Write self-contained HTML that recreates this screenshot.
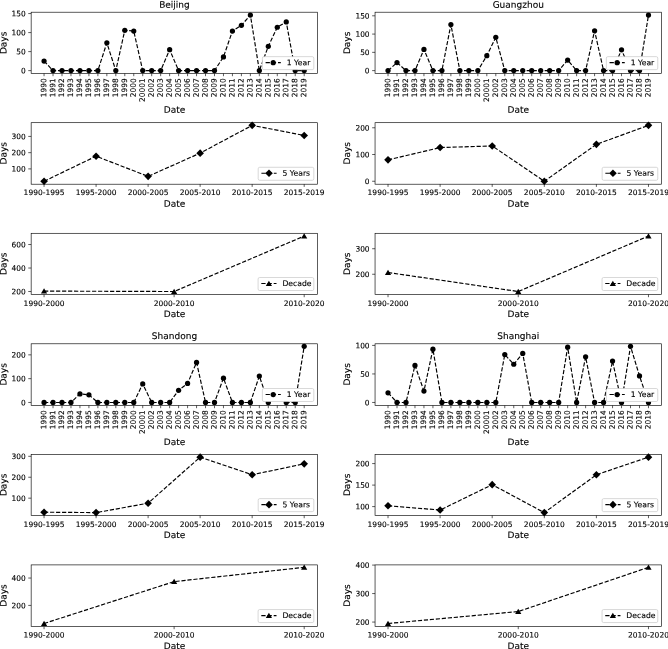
<!DOCTYPE html>
<html lang="en">
<head>
<meta charset="utf-8">
<title>Days per period: Beijing, Guangzhou, Shandong, Shanghai</title>
<style>
html,body{margin:0;padding:0;background:#fff;}
body{width:668px;height:649px;overflow:hidden;}
svg{display:block;will-change:transform;filter:grayscale(1) blur(0.35px);}
svg text{font-family:"DejaVu Sans","Liberation Sans",sans-serif;fill:#000;stroke:#000;stroke-width:0.12px;text-rendering:geometricPrecision;}
</style>
</head>
<body>
<svg width="668" height="649" viewBox="0 0 668 649">
<rect width="668" height="649" fill="#fff"/>
<g>
<polyline points="44.06,61.11 53.03,70.62 62,70.62 70.97,70.62 79.94,70.62 88.91,70.62 97.88,70.62 106.85,42.85 115.82,70.62 124.79,30.3 133.76,31.06 142.73,70.62 151.7,70.62 160.67,70.62 169.64,49.7 178.61,70.62 187.58,70.62 196.55,70.62 205.52,70.62 214.49,70.62 223.46,56.93 232.43,31.06 241.4,25.35 250.37,15.08 259.34,70.62 268.31,46.27 277.28,27.25 286.25,21.93 295.22,70.62 304.19,70.62" fill="none" stroke="#000" stroke-width="1.16" stroke-dasharray="4.2 1.8"/>
<g fill="#000"><circle cx="44.06" cy="61.11" r="2.62"/><circle cx="53.03" cy="70.62" r="2.62"/><circle cx="62" cy="70.62" r="2.62"/><circle cx="70.97" cy="70.62" r="2.62"/><circle cx="79.94" cy="70.62" r="2.62"/><circle cx="88.91" cy="70.62" r="2.62"/><circle cx="97.88" cy="70.62" r="2.62"/><circle cx="106.85" cy="42.85" r="2.62"/><circle cx="115.82" cy="70.62" r="2.62"/><circle cx="124.79" cy="30.3" r="2.62"/><circle cx="133.76" cy="31.06" r="2.62"/><circle cx="142.73" cy="70.62" r="2.62"/><circle cx="151.7" cy="70.62" r="2.62"/><circle cx="160.67" cy="70.62" r="2.62"/><circle cx="169.64" cy="49.7" r="2.62"/><circle cx="178.61" cy="70.62" r="2.62"/><circle cx="187.58" cy="70.62" r="2.62"/><circle cx="196.55" cy="70.62" r="2.62"/><circle cx="205.52" cy="70.62" r="2.62"/><circle cx="214.49" cy="70.62" r="2.62"/><circle cx="223.46" cy="56.93" r="2.62"/><circle cx="232.43" cy="31.06" r="2.62"/><circle cx="241.4" cy="25.35" r="2.62"/><circle cx="250.37" cy="15.08" r="2.62"/><circle cx="259.34" cy="70.62" r="2.62"/><circle cx="268.31" cy="46.27" r="2.62"/><circle cx="277.28" cy="27.25" r="2.62"/><circle cx="286.25" cy="21.93" r="2.62"/><circle cx="295.22" cy="70.62" r="2.62"/><circle cx="304.19" cy="70.62" r="2.62"/></g>
<path d="M44.06 73.5v2.7M53.03 73.5v2.7M62 73.5v2.7M70.97 73.5v2.7M79.94 73.5v2.7M88.91 73.5v2.7M97.88 73.5v2.7M106.85 73.5v2.7M115.82 73.5v2.7M124.79 73.5v2.7M133.76 73.5v2.7M142.73 73.5v2.7M151.7 73.5v2.7M160.67 73.5v2.7M169.64 73.5v2.7M178.61 73.5v2.7M187.58 73.5v2.7M196.55 73.5v2.7M205.52 73.5v2.7M214.49 73.5v2.7M223.46 73.5v2.7M232.43 73.5v2.7M241.4 73.5v2.7M250.37 73.5v2.7M259.34 73.5v2.7M268.31 73.5v2.7M277.28 73.5v2.7M286.25 73.5v2.7M295.22 73.5v2.7M304.19 73.5v2.7M31.15 70.62h-2.9M31.15 51.6h-2.9M31.15 32.58h-2.9M31.15 13.56h-2.9" stroke="#000" stroke-width="0.64" fill="none"/>
<rect x="31.15" y="12.2" width="286.35" height="61.3" fill="none" stroke="#000" stroke-width="0.64"/>
<text transform="translate(25.65 73.34) rotate(0.06)" font-size="7.45" text-anchor="end">0</text>
<text transform="translate(25.65 54.32) rotate(0.06)" font-size="7.45" text-anchor="end">50</text>
<text transform="translate(25.65 35.3) rotate(0.06)" font-size="7.45" text-anchor="end">100</text>
<text transform="translate(25.65 16.27) rotate(0.06)" font-size="7.45" text-anchor="end">150</text>
<text transform="translate(46.18 78.35) rotate(-89.94)" font-size="7.45" text-anchor="end">1990</text>
<text transform="translate(55.15 78.35) rotate(-89.94)" font-size="7.45" text-anchor="end">1991</text>
<text transform="translate(64.12 78.35) rotate(-89.94)" font-size="7.45" text-anchor="end">1992</text>
<text transform="translate(73.09 78.35) rotate(-89.94)" font-size="7.45" text-anchor="end">1993</text>
<text transform="translate(82.06 78.35) rotate(-89.94)" font-size="7.45" text-anchor="end">1994</text>
<text transform="translate(91.03 78.35) rotate(-89.94)" font-size="7.45" text-anchor="end">1995</text>
<text transform="translate(100 78.35) rotate(-89.94)" font-size="7.45" text-anchor="end">1996</text>
<text transform="translate(108.97 78.35) rotate(-89.94)" font-size="7.45" text-anchor="end">1997</text>
<text transform="translate(117.94 78.35) rotate(-89.94)" font-size="7.45" text-anchor="end">1998</text>
<text transform="translate(126.91 78.35) rotate(-89.94)" font-size="7.45" text-anchor="end">1999</text>
<text transform="translate(135.88 78.35) rotate(-89.94)" font-size="7.45" text-anchor="end">2000</text>
<text transform="translate(144.85 78.35) rotate(-89.94)" font-size="7.45" text-anchor="end">20001</text>
<text transform="translate(153.82 78.35) rotate(-89.94)" font-size="7.45" text-anchor="end">2002</text>
<text transform="translate(162.79 78.35) rotate(-89.94)" font-size="7.45" text-anchor="end">2003</text>
<text transform="translate(171.76 78.35) rotate(-89.94)" font-size="7.45" text-anchor="end">2004</text>
<text transform="translate(180.73 78.35) rotate(-89.94)" font-size="7.45" text-anchor="end">2005</text>
<text transform="translate(189.7 78.35) rotate(-89.94)" font-size="7.45" text-anchor="end">2006</text>
<text transform="translate(198.67 78.35) rotate(-89.94)" font-size="7.45" text-anchor="end">2007</text>
<text transform="translate(207.64 78.35) rotate(-89.94)" font-size="7.45" text-anchor="end">2008</text>
<text transform="translate(216.61 78.35) rotate(-89.94)" font-size="7.45" text-anchor="end">2009</text>
<text transform="translate(225.58 78.35) rotate(-89.94)" font-size="7.45" text-anchor="end">2010</text>
<text transform="translate(234.55 78.35) rotate(-89.94)" font-size="7.45" text-anchor="end">2011</text>
<text transform="translate(243.52 78.35) rotate(-89.94)" font-size="7.45" text-anchor="end">2012</text>
<text transform="translate(252.49 78.35) rotate(-89.94)" font-size="7.45" text-anchor="end">2013</text>
<text transform="translate(261.46 78.35) rotate(-89.94)" font-size="7.45" text-anchor="end">2014</text>
<text transform="translate(270.43 78.35) rotate(-89.94)" font-size="7.45" text-anchor="end">2015</text>
<text transform="translate(279.4 78.35) rotate(-89.94)" font-size="7.45" text-anchor="end">2016</text>
<text transform="translate(288.37 78.35) rotate(-89.94)" font-size="7.45" text-anchor="end">2017</text>
<text transform="translate(297.34 78.35) rotate(-89.94)" font-size="7.45" text-anchor="end">2018</text>
<text transform="translate(306.31 78.35) rotate(-89.94)" font-size="7.45" text-anchor="end">2019</text>
<text transform="translate(174.47 112.8) rotate(0.06)" font-size="9.0" text-anchor="middle">Date</text>
<text transform="translate(6.45 42.85) rotate(-89.94)" font-size="9.0" text-anchor="middle">Days</text>
<text transform="translate(174.47 7.7) rotate(0.06)" font-size="9.0" text-anchor="middle">Beijing</text>
<rect x="262.4" y="56.65" width="51.4" height="13" rx="1.5" ry="1.5" fill="#fff" stroke="#ccc" stroke-width="0.76"/>
<path d="M265.6 62.65H280.8" stroke="#000" stroke-width="1.16" stroke-dasharray="4.3 1.9" fill="none"/>
<g fill="#000"><circle cx="273.2" cy="62.65" r="2.62"/></g>
<text transform="translate(286.7 65.15) rotate(0.06)" font-size="7.7">1 Year</text>
</g>
<g>
<polyline points="44.06,181.25 96.08,156.23 148.11,176.37 200.14,153.14 252.17,125.36 304.19,135.44" fill="none" stroke="#000" stroke-width="1.16" stroke-dasharray="4.2 1.8"/>
<g fill="#000"><path d="M44.06 177.45L47.86 181.25L44.06 185.05L40.26 181.25Z"/><path d="M96.08 152.43L99.88 156.23L96.08 160.03L92.28 156.23Z"/><path d="M148.11 172.57L151.91 176.37L148.11 180.17L144.31 176.37Z"/><path d="M200.14 149.34L203.94 153.14L200.14 156.94L196.34 153.14Z"/><path d="M252.17 121.56L255.97 125.36L252.17 129.16L248.37 125.36Z"/><path d="M304.19 131.64L307.99 135.44L304.19 139.24L300.39 135.44Z"/></g>
<path d="M44.06 184.2v2.7M96.08 184.2v2.7M148.11 184.2v2.7M200.14 184.2v2.7M252.17 184.2v2.7M304.19 184.2v2.7M31.15 168.9h-2.9M31.15 152.66h-2.9M31.15 136.41h-2.9" stroke="#000" stroke-width="0.64" fill="none"/>
<rect x="31.15" y="122.7" width="286.35" height="61.5" fill="none" stroke="#000" stroke-width="0.64"/>
<text transform="translate(25.65 171.62) rotate(0.06)" font-size="7.45" text-anchor="end">100</text>
<text transform="translate(25.65 155.37) rotate(0.06)" font-size="7.45" text-anchor="end">200</text>
<text transform="translate(25.65 139.13) rotate(0.06)" font-size="7.45" text-anchor="end">300</text>
<text transform="translate(44.06 195) rotate(0.06)" font-size="7.5" text-anchor="middle">1990-1995</text>
<text transform="translate(96.08 195) rotate(0.06)" font-size="7.5" text-anchor="middle">1995-2000</text>
<text transform="translate(148.11 195) rotate(0.06)" font-size="7.5" text-anchor="middle">2000-2005</text>
<text transform="translate(200.14 195) rotate(0.06)" font-size="7.5" text-anchor="middle">2005-2010</text>
<text transform="translate(252.17 195) rotate(0.06)" font-size="7.5" text-anchor="middle">2010-2015</text>
<text transform="translate(304.19 195) rotate(0.06)" font-size="7.5" text-anchor="middle">2015-2019</text>
<text transform="translate(174.47 206.7) rotate(0.06)" font-size="9.0" text-anchor="middle">Date</text>
<text transform="translate(6.45 153.31) rotate(-89.94)" font-size="9.0" text-anchor="middle">Days</text>
<rect x="258.2" y="167.29" width="55.6" height="13" rx="1.5" ry="1.5" fill="#fff" stroke="#ccc" stroke-width="0.76"/>
<path d="M261.4 173.29H276.6" stroke="#000" stroke-width="1.16" stroke-dasharray="4.3 1.9" fill="none"/>
<g fill="#000"><path d="M269 169.49L272.8 173.29L269 177.09L265.2 173.29Z"/></g>
<text transform="translate(282.5 175.79) rotate(0.06)" font-size="7.7">5 Years</text>
</g>
<g>
<polyline points="44.06,291.1 174.12,291.51 304.19,236.07" fill="none" stroke="#000" stroke-width="1.16" stroke-dasharray="4.2 1.8"/>
<g fill="#000"><path d="M44.06 288.25L47.16 293.6L40.96 293.6Z"/><path d="M174.12 288.66L177.22 294.01L171.03 294.01Z"/><path d="M304.19 233.22L307.29 238.57L301.09 238.57Z"/></g>
<path d="M44.06 294.5v2.7M174.12 294.5v2.7M304.19 294.5v2.7M31.15 291.51h-2.9M31.15 268.02h-2.9M31.15 244.53h-2.9" stroke="#000" stroke-width="0.64" fill="none"/>
<rect x="31.15" y="233.3" width="286.35" height="61.2" fill="none" stroke="#000" stroke-width="0.64"/>
<text transform="translate(25.65 294.23) rotate(0.06)" font-size="7.45" text-anchor="end">200</text>
<text transform="translate(25.65 270.74) rotate(0.06)" font-size="7.45" text-anchor="end">400</text>
<text transform="translate(25.65 247.25) rotate(0.06)" font-size="7.45" text-anchor="end">600</text>
<text transform="translate(44.06 306) rotate(0.06)" font-size="7.5" text-anchor="middle">1990-2000</text>
<text transform="translate(174.12 306) rotate(0.06)" font-size="7.5" text-anchor="middle">2000-2010</text>
<text transform="translate(304.19 306) rotate(0.06)" font-size="7.5" text-anchor="middle">2010-2020</text>
<text transform="translate(174.47 317) rotate(0.06)" font-size="9.0" text-anchor="middle">Date</text>
<text transform="translate(6.45 263.79) rotate(-89.94)" font-size="9.0" text-anchor="middle">Days</text>
<rect x="258.1" y="277.53" width="55.7" height="13" rx="1.5" ry="1.5" fill="#fff" stroke="#ccc" stroke-width="0.76"/>
<path d="M261.3 283.53H276.5" stroke="#000" stroke-width="1.16" stroke-dasharray="4.3 1.9" fill="none"/>
<g fill="#000"><path d="M268.9 280.68L272 286.03L265.8 286.03Z"/></g>
<text transform="translate(282.4 286.03) rotate(0.06)" font-size="7.7">Decade</text>
</g>
<g>
<polyline points="388.02,70.62 397,62.58 405.99,70.62 414.97,70.62 423.95,49.43 432.93,70.62 441.91,70.62 450.89,24.58 459.87,70.62 468.85,70.62 477.83,70.62 486.82,55.64 495.8,37.37 504.78,70.62 513.76,70.62 522.74,70.62 531.72,70.62 540.7,70.62 549.68,70.62 558.67,70.62 567.65,60.03 576.63,70.62 585.61,70.62 594.59,30.79 603.57,70.62 612.55,70.62 621.53,49.79 630.51,70.62 639.5,70.62 648.48,15.08" fill="none" stroke="#000" stroke-width="1.16" stroke-dasharray="4.2 1.8"/>
<g fill="#000"><circle cx="388.02" cy="70.62" r="2.62"/><circle cx="397" cy="62.58" r="2.62"/><circle cx="405.99" cy="70.62" r="2.62"/><circle cx="414.97" cy="70.62" r="2.62"/><circle cx="423.95" cy="49.43" r="2.62"/><circle cx="432.93" cy="70.62" r="2.62"/><circle cx="441.91" cy="70.62" r="2.62"/><circle cx="450.89" cy="24.58" r="2.62"/><circle cx="459.87" cy="70.62" r="2.62"/><circle cx="468.85" cy="70.62" r="2.62"/><circle cx="477.83" cy="70.62" r="2.62"/><circle cx="486.82" cy="55.64" r="2.62"/><circle cx="495.8" cy="37.37" r="2.62"/><circle cx="504.78" cy="70.62" r="2.62"/><circle cx="513.76" cy="70.62" r="2.62"/><circle cx="522.74" cy="70.62" r="2.62"/><circle cx="531.72" cy="70.62" r="2.62"/><circle cx="540.7" cy="70.62" r="2.62"/><circle cx="549.68" cy="70.62" r="2.62"/><circle cx="558.67" cy="70.62" r="2.62"/><circle cx="567.65" cy="60.03" r="2.62"/><circle cx="576.63" cy="70.62" r="2.62"/><circle cx="585.61" cy="70.62" r="2.62"/><circle cx="594.59" cy="30.79" r="2.62"/><circle cx="603.57" cy="70.62" r="2.62"/><circle cx="612.55" cy="70.62" r="2.62"/><circle cx="621.53" cy="49.79" r="2.62"/><circle cx="630.51" cy="70.62" r="2.62"/><circle cx="639.5" cy="70.62" r="2.62"/><circle cx="648.48" cy="15.08" r="2.62"/></g>
<path d="M388.02 73.5v2.7M397 73.5v2.7M405.99 73.5v2.7M414.97 73.5v2.7M423.95 73.5v2.7M432.93 73.5v2.7M441.91 73.5v2.7M450.89 73.5v2.7M459.87 73.5v2.7M468.85 73.5v2.7M477.83 73.5v2.7M486.82 73.5v2.7M495.8 73.5v2.7M504.78 73.5v2.7M513.76 73.5v2.7M522.74 73.5v2.7M531.72 73.5v2.7M540.7 73.5v2.7M549.68 73.5v2.7M558.67 73.5v2.7M567.65 73.5v2.7M576.63 73.5v2.7M585.61 73.5v2.7M594.59 73.5v2.7M603.57 73.5v2.7M612.55 73.5v2.7M621.53 73.5v2.7M630.51 73.5v2.7M639.5 73.5v2.7M648.48 73.5v2.7M375.05 70.62h-2.9M375.05 52.35h-2.9M375.05 34.08h-2.9M375.05 15.81h-2.9" stroke="#000" stroke-width="0.64" fill="none"/>
<rect x="375.05" y="12.2" width="286.45" height="61.3" fill="none" stroke="#000" stroke-width="0.64"/>
<text transform="translate(369.6 73.34) rotate(0.06)" font-size="7.45" text-anchor="end">0</text>
<text transform="translate(369.6 55.07) rotate(0.06)" font-size="7.45" text-anchor="end">50</text>
<text transform="translate(369.6 36.8) rotate(0.06)" font-size="7.45" text-anchor="end">100</text>
<text transform="translate(369.6 18.53) rotate(0.06)" font-size="7.45" text-anchor="end">150</text>
<text transform="translate(390.14 78.35) rotate(-89.94)" font-size="7.45" text-anchor="end">1990</text>
<text transform="translate(399.12 78.35) rotate(-89.94)" font-size="7.45" text-anchor="end">1991</text>
<text transform="translate(408.1 78.35) rotate(-89.94)" font-size="7.45" text-anchor="end">1992</text>
<text transform="translate(417.09 78.35) rotate(-89.94)" font-size="7.45" text-anchor="end">1993</text>
<text transform="translate(426.07 78.35) rotate(-89.94)" font-size="7.45" text-anchor="end">1994</text>
<text transform="translate(435.05 78.35) rotate(-89.94)" font-size="7.45" text-anchor="end">1995</text>
<text transform="translate(444.03 78.35) rotate(-89.94)" font-size="7.45" text-anchor="end">1996</text>
<text transform="translate(453.01 78.35) rotate(-89.94)" font-size="7.45" text-anchor="end">1997</text>
<text transform="translate(461.99 78.35) rotate(-89.94)" font-size="7.45" text-anchor="end">1998</text>
<text transform="translate(470.97 78.35) rotate(-89.94)" font-size="7.45" text-anchor="end">1999</text>
<text transform="translate(479.95 78.35) rotate(-89.94)" font-size="7.45" text-anchor="end">2000</text>
<text transform="translate(488.94 78.35) rotate(-89.94)" font-size="7.45" text-anchor="end">20001</text>
<text transform="translate(497.92 78.35) rotate(-89.94)" font-size="7.45" text-anchor="end">2002</text>
<text transform="translate(506.9 78.35) rotate(-89.94)" font-size="7.45" text-anchor="end">2003</text>
<text transform="translate(515.88 78.35) rotate(-89.94)" font-size="7.45" text-anchor="end">2004</text>
<text transform="translate(524.86 78.35) rotate(-89.94)" font-size="7.45" text-anchor="end">2005</text>
<text transform="translate(533.84 78.35) rotate(-89.94)" font-size="7.45" text-anchor="end">2006</text>
<text transform="translate(542.82 78.35) rotate(-89.94)" font-size="7.45" text-anchor="end">2007</text>
<text transform="translate(551.8 78.35) rotate(-89.94)" font-size="7.45" text-anchor="end">2008</text>
<text transform="translate(560.78 78.35) rotate(-89.94)" font-size="7.45" text-anchor="end">2009</text>
<text transform="translate(569.77 78.35) rotate(-89.94)" font-size="7.45" text-anchor="end">2010</text>
<text transform="translate(578.75 78.35) rotate(-89.94)" font-size="7.45" text-anchor="end">2011</text>
<text transform="translate(587.73 78.35) rotate(-89.94)" font-size="7.45" text-anchor="end">2012</text>
<text transform="translate(596.71 78.35) rotate(-89.94)" font-size="7.45" text-anchor="end">2013</text>
<text transform="translate(605.69 78.35) rotate(-89.94)" font-size="7.45" text-anchor="end">2014</text>
<text transform="translate(614.67 78.35) rotate(-89.94)" font-size="7.45" text-anchor="end">2015</text>
<text transform="translate(623.65 78.35) rotate(-89.94)" font-size="7.45" text-anchor="end">2016</text>
<text transform="translate(632.63 78.35) rotate(-89.94)" font-size="7.45" text-anchor="end">2017</text>
<text transform="translate(641.62 78.35) rotate(-89.94)" font-size="7.45" text-anchor="end">2018</text>
<text transform="translate(650.6 78.35) rotate(-89.94)" font-size="7.45" text-anchor="end">2019</text>
<text transform="translate(518.25 112.8) rotate(0.06)" font-size="9.0" text-anchor="middle">Date</text>
<text transform="translate(350.05 42.85) rotate(-89.94)" font-size="9.0" text-anchor="middle">Days</text>
<text transform="translate(518.25 7.7) rotate(0.06)" font-size="9.0" text-anchor="middle">Guangzhou</text>
<rect x="606.35" y="56.65" width="51.4" height="13" rx="1.5" ry="1.5" fill="#fff" stroke="#ccc" stroke-width="0.76"/>
<path d="M609.55 62.65H624.75" stroke="#000" stroke-width="1.16" stroke-dasharray="4.3 1.9" fill="none"/>
<g fill="#000"><circle cx="617.15" cy="62.65" r="2.62"/></g>
<text transform="translate(630.65 65.15) rotate(0.06)" font-size="7.7">1 Year</text>
</g>
<g>
<polyline points="388.02,159.86 440.11,147.56 492.2,145.95 544.3,181.25 596.39,144.35 648.48,125.36" fill="none" stroke="#000" stroke-width="1.16" stroke-dasharray="4.2 1.8"/>
<g fill="#000"><path d="M388.02 156.06L391.82 159.86L388.02 163.66L384.22 159.86Z"/><path d="M440.11 143.76L443.91 147.56L440.11 151.36L436.31 147.56Z"/><path d="M492.2 142.15L496 145.95L492.2 149.75L488.4 145.95Z"/><path d="M544.3 177.45L548.1 181.25L544.3 185.05L540.5 181.25Z"/><path d="M596.39 140.55L600.19 144.35L596.39 148.15L592.59 144.35Z"/><path d="M648.48 121.56L652.28 125.36L648.48 129.16L644.68 125.36Z"/></g>
<path d="M388.02 184.2v2.7M440.11 184.2v2.7M492.2 184.2v2.7M544.3 184.2v2.7M596.39 184.2v2.7M648.48 184.2v2.7M375.05 181.25h-2.9M375.05 154.51h-2.9M375.05 127.77h-2.9" stroke="#000" stroke-width="0.64" fill="none"/>
<rect x="375.05" y="122.7" width="286.45" height="61.5" fill="none" stroke="#000" stroke-width="0.64"/>
<text transform="translate(369.6 183.97) rotate(0.06)" font-size="7.45" text-anchor="end">0</text>
<text transform="translate(369.6 157.23) rotate(0.06)" font-size="7.45" text-anchor="end">100</text>
<text transform="translate(369.6 130.49) rotate(0.06)" font-size="7.45" text-anchor="end">200</text>
<text transform="translate(388.02 195) rotate(0.06)" font-size="7.5" text-anchor="middle">1990-1995</text>
<text transform="translate(440.11 195) rotate(0.06)" font-size="7.5" text-anchor="middle">1995-2000</text>
<text transform="translate(492.2 195) rotate(0.06)" font-size="7.5" text-anchor="middle">2000-2005</text>
<text transform="translate(544.3 195) rotate(0.06)" font-size="7.5" text-anchor="middle">2005-2010</text>
<text transform="translate(596.39 195) rotate(0.06)" font-size="7.5" text-anchor="middle">2010-2015</text>
<text transform="translate(648.48 195) rotate(0.06)" font-size="7.5" text-anchor="middle">2015-2019</text>
<text transform="translate(518.25 206.7) rotate(0.06)" font-size="9.0" text-anchor="middle">Date</text>
<text transform="translate(350.05 153.31) rotate(-89.94)" font-size="9.0" text-anchor="middle">Days</text>
<rect x="602.15" y="167.29" width="55.6" height="13" rx="1.5" ry="1.5" fill="#fff" stroke="#ccc" stroke-width="0.76"/>
<path d="M605.35 173.29H620.55" stroke="#000" stroke-width="1.16" stroke-dasharray="4.3 1.9" fill="none"/>
<g fill="#000"><path d="M612.95 169.49L616.75 173.29L612.95 177.09L609.15 173.29Z"/></g>
<text transform="translate(626.45 175.79) rotate(0.06)" font-size="7.7">5 Years</text>
</g>
<g>
<polyline points="388.02,272.48 518.25,291.51 648.48,236.07" fill="none" stroke="#000" stroke-width="1.16" stroke-dasharray="4.2 1.8"/>
<g fill="#000"><path d="M388.02 269.63L391.12 274.98L384.92 274.98Z"/><path d="M518.25 288.66L521.35 294.01L515.15 294.01Z"/><path d="M648.48 233.22L651.58 238.57L645.38 238.57Z"/></g>
<path d="M388.02 294.5v2.7M518.25 294.5v2.7M648.48 294.5v2.7M375.05 274.26h-2.9M375.05 248.72h-2.9" stroke="#000" stroke-width="0.64" fill="none"/>
<rect x="375.05" y="233.3" width="286.45" height="61.2" fill="none" stroke="#000" stroke-width="0.64"/>
<text transform="translate(369.6 276.98) rotate(0.06)" font-size="7.45" text-anchor="end">200</text>
<text transform="translate(369.6 251.44) rotate(0.06)" font-size="7.45" text-anchor="end">300</text>
<text transform="translate(388.02 306) rotate(0.06)" font-size="7.5" text-anchor="middle">1990-2000</text>
<text transform="translate(518.25 306) rotate(0.06)" font-size="7.5" text-anchor="middle">2000-2010</text>
<text transform="translate(648.48 306) rotate(0.06)" font-size="7.5" text-anchor="middle">2010-2020</text>
<text transform="translate(518.25 317) rotate(0.06)" font-size="9.0" text-anchor="middle">Date</text>
<text transform="translate(350.05 263.79) rotate(-89.94)" font-size="9.0" text-anchor="middle">Days</text>
<rect x="602.05" y="277.53" width="55.7" height="13" rx="1.5" ry="1.5" fill="#fff" stroke="#ccc" stroke-width="0.76"/>
<path d="M605.25 283.53H620.45" stroke="#000" stroke-width="1.16" stroke-dasharray="4.3 1.9" fill="none"/>
<g fill="#000"><path d="M612.85 280.68L615.95 286.03L609.75 286.03Z"/></g>
<text transform="translate(626.35 286.03) rotate(0.06)" font-size="7.7">Decade</text>
</g>
<g>
<polyline points="44.06,402.46 53.03,402.46 62,402.46 70.97,402.46 79.94,393.89 88.91,394.84 97.88,402.46 106.85,402.46 115.82,402.46 124.79,402.46 133.76,402.46 142.73,383.89 151.7,402.46 160.67,402.46 169.64,402.46 178.61,390.32 187.58,383.42 196.55,362.47 205.52,402.46 214.49,402.46 223.46,378.18 232.43,402.46 241.4,402.46 250.37,402.46 259.34,376.04 268.31,402.46 277.28,395.32 286.25,402.46 295.22,402.46 304.19,346.28" fill="none" stroke="#000" stroke-width="1.16" stroke-dasharray="4.2 1.8"/>
<g fill="#000"><circle cx="44.06" cy="402.46" r="2.62"/><circle cx="53.03" cy="402.46" r="2.62"/><circle cx="62" cy="402.46" r="2.62"/><circle cx="70.97" cy="402.46" r="2.62"/><circle cx="79.94" cy="393.89" r="2.62"/><circle cx="88.91" cy="394.84" r="2.62"/><circle cx="97.88" cy="402.46" r="2.62"/><circle cx="106.85" cy="402.46" r="2.62"/><circle cx="115.82" cy="402.46" r="2.62"/><circle cx="124.79" cy="402.46" r="2.62"/><circle cx="133.76" cy="402.46" r="2.62"/><circle cx="142.73" cy="383.89" r="2.62"/><circle cx="151.7" cy="402.46" r="2.62"/><circle cx="160.67" cy="402.46" r="2.62"/><circle cx="169.64" cy="402.46" r="2.62"/><circle cx="178.61" cy="390.32" r="2.62"/><circle cx="187.58" cy="383.42" r="2.62"/><circle cx="196.55" cy="362.47" r="2.62"/><circle cx="205.52" cy="402.46" r="2.62"/><circle cx="214.49" cy="402.46" r="2.62"/><circle cx="223.46" cy="378.18" r="2.62"/><circle cx="232.43" cy="402.46" r="2.62"/><circle cx="241.4" cy="402.46" r="2.62"/><circle cx="250.37" cy="402.46" r="2.62"/><circle cx="259.34" cy="376.04" r="2.62"/><circle cx="268.31" cy="402.46" r="2.62"/><circle cx="277.28" cy="395.32" r="2.62"/><circle cx="286.25" cy="402.46" r="2.62"/><circle cx="295.22" cy="402.46" r="2.62"/><circle cx="304.19" cy="346.28" r="2.62"/></g>
<path d="M44.06 405.5v2.7M53.03 405.5v2.7M62 405.5v2.7M70.97 405.5v2.7M79.94 405.5v2.7M88.91 405.5v2.7M97.88 405.5v2.7M106.85 405.5v2.7M115.82 405.5v2.7M124.79 405.5v2.7M133.76 405.5v2.7M142.73 405.5v2.7M151.7 405.5v2.7M160.67 405.5v2.7M169.64 405.5v2.7M178.61 405.5v2.7M187.58 405.5v2.7M196.55 405.5v2.7M205.52 405.5v2.7M214.49 405.5v2.7M223.46 405.5v2.7M232.43 405.5v2.7M241.4 405.5v2.7M250.37 405.5v2.7M259.34 405.5v2.7M268.31 405.5v2.7M277.28 405.5v2.7M286.25 405.5v2.7M295.22 405.5v2.7M304.19 405.5v2.7M31.15 402.46h-2.9M31.15 378.66h-2.9M31.15 354.85h-2.9" stroke="#000" stroke-width="0.64" fill="none"/>
<rect x="31.15" y="343.8" width="286.35" height="61.7" fill="none" stroke="#000" stroke-width="0.64"/>
<text transform="translate(25.65 405.18) rotate(0.06)" font-size="7.45" text-anchor="end">0</text>
<text transform="translate(25.65 381.37) rotate(0.06)" font-size="7.45" text-anchor="end">100</text>
<text transform="translate(25.65 357.57) rotate(0.06)" font-size="7.45" text-anchor="end">200</text>
<text transform="translate(46.18 410.22) rotate(-89.94)" font-size="7.45" text-anchor="end">1990</text>
<text transform="translate(55.15 410.22) rotate(-89.94)" font-size="7.45" text-anchor="end">1991</text>
<text transform="translate(64.12 410.22) rotate(-89.94)" font-size="7.45" text-anchor="end">1992</text>
<text transform="translate(73.09 410.22) rotate(-89.94)" font-size="7.45" text-anchor="end">1993</text>
<text transform="translate(82.06 410.22) rotate(-89.94)" font-size="7.45" text-anchor="end">1994</text>
<text transform="translate(91.03 410.22) rotate(-89.94)" font-size="7.45" text-anchor="end">1995</text>
<text transform="translate(100 410.22) rotate(-89.94)" font-size="7.45" text-anchor="end">1996</text>
<text transform="translate(108.97 410.22) rotate(-89.94)" font-size="7.45" text-anchor="end">1997</text>
<text transform="translate(117.94 410.22) rotate(-89.94)" font-size="7.45" text-anchor="end">1998</text>
<text transform="translate(126.91 410.22) rotate(-89.94)" font-size="7.45" text-anchor="end">1999</text>
<text transform="translate(135.88 410.22) rotate(-89.94)" font-size="7.45" text-anchor="end">2000</text>
<text transform="translate(144.85 410.22) rotate(-89.94)" font-size="7.45" text-anchor="end">20001</text>
<text transform="translate(153.82 410.22) rotate(-89.94)" font-size="7.45" text-anchor="end">2002</text>
<text transform="translate(162.79 410.22) rotate(-89.94)" font-size="7.45" text-anchor="end">2003</text>
<text transform="translate(171.76 410.22) rotate(-89.94)" font-size="7.45" text-anchor="end">2004</text>
<text transform="translate(180.73 410.22) rotate(-89.94)" font-size="7.45" text-anchor="end">2005</text>
<text transform="translate(189.7 410.22) rotate(-89.94)" font-size="7.45" text-anchor="end">2006</text>
<text transform="translate(198.67 410.22) rotate(-89.94)" font-size="7.45" text-anchor="end">2007</text>
<text transform="translate(207.64 410.22) rotate(-89.94)" font-size="7.45" text-anchor="end">2008</text>
<text transform="translate(216.61 410.22) rotate(-89.94)" font-size="7.45" text-anchor="end">2009</text>
<text transform="translate(225.58 410.22) rotate(-89.94)" font-size="7.45" text-anchor="end">2010</text>
<text transform="translate(234.55 410.22) rotate(-89.94)" font-size="7.45" text-anchor="end">2011</text>
<text transform="translate(243.52 410.22) rotate(-89.94)" font-size="7.45" text-anchor="end">2012</text>
<text transform="translate(252.49 410.22) rotate(-89.94)" font-size="7.45" text-anchor="end">2013</text>
<text transform="translate(261.46 410.22) rotate(-89.94)" font-size="7.45" text-anchor="end">2014</text>
<text transform="translate(270.43 410.22) rotate(-89.94)" font-size="7.45" text-anchor="end">2015</text>
<text transform="translate(279.4 410.22) rotate(-89.94)" font-size="7.45" text-anchor="end">2016</text>
<text transform="translate(288.37 410.22) rotate(-89.94)" font-size="7.45" text-anchor="end">2017</text>
<text transform="translate(297.34 410.22) rotate(-89.94)" font-size="7.45" text-anchor="end">2018</text>
<text transform="translate(306.31 410.22) rotate(-89.94)" font-size="7.45" text-anchor="end">2019</text>
<text transform="translate(174.47 445) rotate(0.06)" font-size="9.0" text-anchor="middle">Date</text>
<text transform="translate(6.45 374.37) rotate(-89.94)" font-size="9.0" text-anchor="middle">Days</text>
<text transform="translate(174.47 339) rotate(0.06)" font-size="9.0" text-anchor="middle">Shandong</text>
<rect x="262.4" y="388.52" width="51.4" height="13" rx="1.5" ry="1.5" fill="#fff" stroke="#ccc" stroke-width="0.76"/>
<path d="M265.6 394.52H280.8" stroke="#000" stroke-width="1.16" stroke-dasharray="4.3 1.9" fill="none"/>
<g fill="#000"><circle cx="273.2" cy="394.52" r="2.62"/></g>
<text transform="translate(286.7 397.02) rotate(0.06)" font-size="7.7">1 Year</text>
</g>
<g>
<polyline points="44.06,512.2 96.08,512.62 148.11,503.2 200.14,457.14 252.17,474.73 304.19,463.84" fill="none" stroke="#000" stroke-width="1.16" stroke-dasharray="4.2 1.8"/>
<g fill="#000"><path d="M44.06 508.4L47.86 512.2L44.06 516L40.26 512.2Z"/><path d="M96.08 508.82L99.88 512.62L96.08 516.42L92.28 512.62Z"/><path d="M148.11 499.4L151.91 503.2L148.11 507L144.31 503.2Z"/><path d="M200.14 453.34L203.94 457.14L200.14 460.94L196.34 457.14Z"/><path d="M252.17 470.93L255.97 474.73L252.17 478.53L248.37 474.73Z"/><path d="M304.19 460.04L307.99 463.84L304.19 467.64L300.39 463.84Z"/></g>
<path d="M44.06 515.5v2.7M96.08 515.5v2.7M148.11 515.5v2.7M200.14 515.5v2.7M252.17 515.5v2.7M304.19 515.5v2.7M31.15 498.17h-2.9M31.15 477.24h-2.9M31.15 456.31h-2.9" stroke="#000" stroke-width="0.64" fill="none"/>
<rect x="31.15" y="454.5" width="286.35" height="61" fill="none" stroke="#000" stroke-width="0.64"/>
<text transform="translate(25.65 500.89) rotate(0.06)" font-size="7.45" text-anchor="end">100</text>
<text transform="translate(25.65 479.96) rotate(0.06)" font-size="7.45" text-anchor="end">200</text>
<text transform="translate(25.65 459.03) rotate(0.06)" font-size="7.45" text-anchor="end">300</text>
<text transform="translate(44.06 527) rotate(0.06)" font-size="7.5" text-anchor="middle">1990-1995</text>
<text transform="translate(96.08 527) rotate(0.06)" font-size="7.5" text-anchor="middle">1995-2000</text>
<text transform="translate(148.11 527) rotate(0.06)" font-size="7.5" text-anchor="middle">2000-2005</text>
<text transform="translate(200.14 527) rotate(0.06)" font-size="7.5" text-anchor="middle">2005-2010</text>
<text transform="translate(252.17 527) rotate(0.06)" font-size="7.5" text-anchor="middle">2010-2015</text>
<text transform="translate(304.19 527) rotate(0.06)" font-size="7.5" text-anchor="middle">2015-2019</text>
<text transform="translate(174.47 538) rotate(0.06)" font-size="9.0" text-anchor="middle">Date</text>
<text transform="translate(6.45 484.88) rotate(-89.94)" font-size="9.0" text-anchor="middle">Days</text>
<rect x="258.2" y="498.64" width="55.6" height="13" rx="1.5" ry="1.5" fill="#fff" stroke="#ccc" stroke-width="0.76"/>
<path d="M261.4 504.64H276.6" stroke="#000" stroke-width="1.16" stroke-dasharray="4.3 1.9" fill="none"/>
<g fill="#000"><path d="M269 500.84L272.8 504.64L269 508.44L265.2 504.64Z"/></g>
<text transform="translate(282.5 507.14) rotate(0.06)" font-size="7.7">5 Years</text>
</g>
<g>
<polyline points="44.06,623.49 174.12,581.6 304.19,567.36" fill="none" stroke="#000" stroke-width="1.16" stroke-dasharray="4.2 1.8"/>
<g fill="#000"><path d="M44.06 620.64L47.16 625.99L40.96 625.99Z"/><path d="M174.12 578.75L177.22 584.1L171.03 584.1Z"/><path d="M304.19 564.51L307.29 569.86L301.09 569.86Z"/></g>
<path d="M44.06 626.5v2.7M174.12 626.5v2.7M304.19 626.5v2.7M31.15 605.42h-2.9M31.15 578.04h-2.9" stroke="#000" stroke-width="0.64" fill="none"/>
<rect x="31.15" y="564.9" width="286.35" height="61.6" fill="none" stroke="#000" stroke-width="0.64"/>
<text transform="translate(25.65 608.14) rotate(0.06)" font-size="7.45" text-anchor="end">200</text>
<text transform="translate(25.65 580.76) rotate(0.06)" font-size="7.45" text-anchor="end">400</text>
<text transform="translate(44.06 637.5) rotate(0.06)" font-size="7.5" text-anchor="middle">1990-2000</text>
<text transform="translate(174.12 637.5) rotate(0.06)" font-size="7.5" text-anchor="middle">2000-2010</text>
<text transform="translate(304.19 637.5) rotate(0.06)" font-size="7.5" text-anchor="middle">2010-2020</text>
<text transform="translate(174.47 649) rotate(0.06)" font-size="9.0" text-anchor="middle">Date</text>
<text transform="translate(6.45 595.42) rotate(-89.94)" font-size="9.0" text-anchor="middle">Days</text>
<rect x="258.1" y="609.55" width="55.7" height="13" rx="1.5" ry="1.5" fill="#fff" stroke="#ccc" stroke-width="0.76"/>
<path d="M261.3 615.55H276.5" stroke="#000" stroke-width="1.16" stroke-dasharray="4.3 1.9" fill="none"/>
<g fill="#000"><path d="M268.9 612.7L272 618.05L265.8 618.05Z"/></g>
<text transform="translate(282.4 618.05) rotate(0.06)" font-size="7.7">Decade</text>
</g>
<g>
<polyline points="388.02,392.76 397,402.46 405.99,402.46 414.97,365.39 423.95,391.05 432.93,349.13 441.91,402.46 450.89,402.46 459.87,402.46 468.85,402.46 477.83,402.46 486.82,402.46 495.8,402.46 504.78,354.55 513.76,364.25 522.74,353.41 531.72,402.46 540.7,402.46 549.68,402.46 558.67,402.46 567.65,347.13 576.63,402.46 585.61,356.83 594.59,402.46 603.57,402.46 612.55,361.11 621.53,402.46 630.51,346.28 639.5,375.94 648.48,402.46" fill="none" stroke="#000" stroke-width="1.16" stroke-dasharray="4.2 1.8"/>
<g fill="#000"><circle cx="388.02" cy="392.76" r="2.62"/><circle cx="397" cy="402.46" r="2.62"/><circle cx="405.99" cy="402.46" r="2.62"/><circle cx="414.97" cy="365.39" r="2.62"/><circle cx="423.95" cy="391.05" r="2.62"/><circle cx="432.93" cy="349.13" r="2.62"/><circle cx="441.91" cy="402.46" r="2.62"/><circle cx="450.89" cy="402.46" r="2.62"/><circle cx="459.87" cy="402.46" r="2.62"/><circle cx="468.85" cy="402.46" r="2.62"/><circle cx="477.83" cy="402.46" r="2.62"/><circle cx="486.82" cy="402.46" r="2.62"/><circle cx="495.8" cy="402.46" r="2.62"/><circle cx="504.78" cy="354.55" r="2.62"/><circle cx="513.76" cy="364.25" r="2.62"/><circle cx="522.74" cy="353.41" r="2.62"/><circle cx="531.72" cy="402.46" r="2.62"/><circle cx="540.7" cy="402.46" r="2.62"/><circle cx="549.68" cy="402.46" r="2.62"/><circle cx="558.67" cy="402.46" r="2.62"/><circle cx="567.65" cy="347.13" r="2.62"/><circle cx="576.63" cy="402.46" r="2.62"/><circle cx="585.61" cy="356.83" r="2.62"/><circle cx="594.59" cy="402.46" r="2.62"/><circle cx="603.57" cy="402.46" r="2.62"/><circle cx="612.55" cy="361.11" r="2.62"/><circle cx="621.53" cy="402.46" r="2.62"/><circle cx="630.51" cy="346.28" r="2.62"/><circle cx="639.5" cy="375.94" r="2.62"/><circle cx="648.48" cy="402.46" r="2.62"/></g>
<path d="M388.02 405.5v2.7M397 405.5v2.7M405.99 405.5v2.7M414.97 405.5v2.7M423.95 405.5v2.7M432.93 405.5v2.7M441.91 405.5v2.7M450.89 405.5v2.7M459.87 405.5v2.7M468.85 405.5v2.7M477.83 405.5v2.7M486.82 405.5v2.7M495.8 405.5v2.7M504.78 405.5v2.7M513.76 405.5v2.7M522.74 405.5v2.7M531.72 405.5v2.7M540.7 405.5v2.7M549.68 405.5v2.7M558.67 405.5v2.7M567.65 405.5v2.7M576.63 405.5v2.7M585.61 405.5v2.7M594.59 405.5v2.7M603.57 405.5v2.7M612.55 405.5v2.7M621.53 405.5v2.7M630.51 405.5v2.7M639.5 405.5v2.7M648.48 405.5v2.7M375.05 402.46h-2.9M375.05 373.94h-2.9M375.05 345.42h-2.9" stroke="#000" stroke-width="0.64" fill="none"/>
<rect x="375.05" y="343.8" width="286.45" height="61.7" fill="none" stroke="#000" stroke-width="0.64"/>
<text transform="translate(369.6 405.18) rotate(0.06)" font-size="7.45" text-anchor="end">0</text>
<text transform="translate(369.6 376.66) rotate(0.06)" font-size="7.45" text-anchor="end">50</text>
<text transform="translate(369.6 348.14) rotate(0.06)" font-size="7.45" text-anchor="end">100</text>
<text transform="translate(390.14 410.22) rotate(-89.94)" font-size="7.45" text-anchor="end">1990</text>
<text transform="translate(399.12 410.22) rotate(-89.94)" font-size="7.45" text-anchor="end">1991</text>
<text transform="translate(408.1 410.22) rotate(-89.94)" font-size="7.45" text-anchor="end">1992</text>
<text transform="translate(417.09 410.22) rotate(-89.94)" font-size="7.45" text-anchor="end">1993</text>
<text transform="translate(426.07 410.22) rotate(-89.94)" font-size="7.45" text-anchor="end">1994</text>
<text transform="translate(435.05 410.22) rotate(-89.94)" font-size="7.45" text-anchor="end">1995</text>
<text transform="translate(444.03 410.22) rotate(-89.94)" font-size="7.45" text-anchor="end">1996</text>
<text transform="translate(453.01 410.22) rotate(-89.94)" font-size="7.45" text-anchor="end">1997</text>
<text transform="translate(461.99 410.22) rotate(-89.94)" font-size="7.45" text-anchor="end">1998</text>
<text transform="translate(470.97 410.22) rotate(-89.94)" font-size="7.45" text-anchor="end">1999</text>
<text transform="translate(479.95 410.22) rotate(-89.94)" font-size="7.45" text-anchor="end">2000</text>
<text transform="translate(488.94 410.22) rotate(-89.94)" font-size="7.45" text-anchor="end">20001</text>
<text transform="translate(497.92 410.22) rotate(-89.94)" font-size="7.45" text-anchor="end">2002</text>
<text transform="translate(506.9 410.22) rotate(-89.94)" font-size="7.45" text-anchor="end">2003</text>
<text transform="translate(515.88 410.22) rotate(-89.94)" font-size="7.45" text-anchor="end">2004</text>
<text transform="translate(524.86 410.22) rotate(-89.94)" font-size="7.45" text-anchor="end">2005</text>
<text transform="translate(533.84 410.22) rotate(-89.94)" font-size="7.45" text-anchor="end">2006</text>
<text transform="translate(542.82 410.22) rotate(-89.94)" font-size="7.45" text-anchor="end">2007</text>
<text transform="translate(551.8 410.22) rotate(-89.94)" font-size="7.45" text-anchor="end">2008</text>
<text transform="translate(560.78 410.22) rotate(-89.94)" font-size="7.45" text-anchor="end">2009</text>
<text transform="translate(569.77 410.22) rotate(-89.94)" font-size="7.45" text-anchor="end">2010</text>
<text transform="translate(578.75 410.22) rotate(-89.94)" font-size="7.45" text-anchor="end">2011</text>
<text transform="translate(587.73 410.22) rotate(-89.94)" font-size="7.45" text-anchor="end">2012</text>
<text transform="translate(596.71 410.22) rotate(-89.94)" font-size="7.45" text-anchor="end">2013</text>
<text transform="translate(605.69 410.22) rotate(-89.94)" font-size="7.45" text-anchor="end">2014</text>
<text transform="translate(614.67 410.22) rotate(-89.94)" font-size="7.45" text-anchor="end">2015</text>
<text transform="translate(623.65 410.22) rotate(-89.94)" font-size="7.45" text-anchor="end">2016</text>
<text transform="translate(632.63 410.22) rotate(-89.94)" font-size="7.45" text-anchor="end">2017</text>
<text transform="translate(641.62 410.22) rotate(-89.94)" font-size="7.45" text-anchor="end">2018</text>
<text transform="translate(650.6 410.22) rotate(-89.94)" font-size="7.45" text-anchor="end">2019</text>
<text transform="translate(518.25 445) rotate(0.06)" font-size="9.0" text-anchor="middle">Date</text>
<text transform="translate(350.05 374.37) rotate(-89.94)" font-size="9.0" text-anchor="middle">Days</text>
<text transform="translate(518.25 339) rotate(0.06)" font-size="9.0" text-anchor="middle">Shanghai</text>
<rect x="606.35" y="388.52" width="51.4" height="13" rx="1.5" ry="1.5" fill="#fff" stroke="#ccc" stroke-width="0.76"/>
<path d="M609.55 394.52H624.75" stroke="#000" stroke-width="1.16" stroke-dasharray="4.3 1.9" fill="none"/>
<g fill="#000"><circle cx="617.15" cy="394.52" r="2.62"/></g>
<text transform="translate(630.65 397.02) rotate(0.06)" font-size="7.7">1 Year</text>
</g>
<g>
<polyline points="388.02,505.74 440.11,510.04 492.2,484.66 544.3,512.62 596.39,474.77 648.48,457.14" fill="none" stroke="#000" stroke-width="1.16" stroke-dasharray="4.2 1.8"/>
<g fill="#000"><path d="M388.02 501.94L391.82 505.74L388.02 509.54L384.22 505.74Z"/><path d="M440.11 506.24L443.91 510.04L440.11 513.84L436.31 510.04Z"/><path d="M492.2 480.86L496 484.66L492.2 488.46L488.4 484.66Z"/><path d="M544.3 508.82L548.1 512.62L544.3 516.42L540.5 512.62Z"/><path d="M596.39 470.97L600.19 474.77L596.39 478.57L592.59 474.77Z"/><path d="M648.48 453.34L652.28 457.14L648.48 460.94L644.68 457.14Z"/></g>
<path d="M388.02 515.5v2.7M440.11 515.5v2.7M492.2 515.5v2.7M544.3 515.5v2.7M596.39 515.5v2.7M648.48 515.5v2.7M375.05 506.6h-2.9M375.05 485.1h-2.9M375.05 463.59h-2.9" stroke="#000" stroke-width="0.64" fill="none"/>
<rect x="375.05" y="454.5" width="286.45" height="61" fill="none" stroke="#000" stroke-width="0.64"/>
<text transform="translate(369.6 509.32) rotate(0.06)" font-size="7.45" text-anchor="end">100</text>
<text transform="translate(369.6 487.81) rotate(0.06)" font-size="7.45" text-anchor="end">150</text>
<text transform="translate(369.6 466.31) rotate(0.06)" font-size="7.45" text-anchor="end">200</text>
<text transform="translate(388.02 527) rotate(0.06)" font-size="7.5" text-anchor="middle">1990-1995</text>
<text transform="translate(440.11 527) rotate(0.06)" font-size="7.5" text-anchor="middle">1995-2000</text>
<text transform="translate(492.2 527) rotate(0.06)" font-size="7.5" text-anchor="middle">2000-2005</text>
<text transform="translate(544.3 527) rotate(0.06)" font-size="7.5" text-anchor="middle">2005-2010</text>
<text transform="translate(596.39 527) rotate(0.06)" font-size="7.5" text-anchor="middle">2010-2015</text>
<text transform="translate(648.48 527) rotate(0.06)" font-size="7.5" text-anchor="middle">2015-2019</text>
<text transform="translate(518.25 538) rotate(0.06)" font-size="9.0" text-anchor="middle">Date</text>
<text transform="translate(350.05 484.88) rotate(-89.94)" font-size="9.0" text-anchor="middle">Days</text>
<rect x="602.15" y="498.64" width="55.6" height="13" rx="1.5" ry="1.5" fill="#fff" stroke="#ccc" stroke-width="0.76"/>
<path d="M605.35 504.64H620.55" stroke="#000" stroke-width="1.16" stroke-dasharray="4.3 1.9" fill="none"/>
<g fill="#000"><path d="M612.95 500.84L616.75 504.64L612.95 508.44L609.15 504.64Z"/></g>
<text transform="translate(626.45 507.14) rotate(0.06)" font-size="7.7">5 Years</text>
</g>
<g>
<polyline points="388.02,623.49 518.25,611.53 648.48,567.36" fill="none" stroke="#000" stroke-width="1.16" stroke-dasharray="4.2 1.8"/>
<g fill="#000"><path d="M388.02 620.64L391.12 625.99L384.92 625.99Z"/><path d="M518.25 608.68L521.35 614.03L515.15 614.03Z"/><path d="M648.48 564.51L651.58 569.86L645.38 569.86Z"/></g>
<path d="M388.02 626.5v2.7M518.25 626.5v2.7M648.48 626.5v2.7M375.05 622.07h-2.9M375.05 593.57h-2.9M375.05 565.08h-2.9" stroke="#000" stroke-width="0.64" fill="none"/>
<rect x="375.05" y="564.9" width="286.45" height="61.6" fill="none" stroke="#000" stroke-width="0.64"/>
<text transform="translate(369.6 624.79) rotate(0.06)" font-size="7.45" text-anchor="end">200</text>
<text transform="translate(369.6 596.29) rotate(0.06)" font-size="7.45" text-anchor="end">300</text>
<text transform="translate(369.6 567.8) rotate(0.06)" font-size="7.45" text-anchor="end">400</text>
<text transform="translate(388.02 637.5) rotate(0.06)" font-size="7.5" text-anchor="middle">1990-2000</text>
<text transform="translate(518.25 637.5) rotate(0.06)" font-size="7.5" text-anchor="middle">2000-2010</text>
<text transform="translate(648.48 637.5) rotate(0.06)" font-size="7.5" text-anchor="middle">2010-2020</text>
<text transform="translate(518.25 649) rotate(0.06)" font-size="9.0" text-anchor="middle">Date</text>
<text transform="translate(350.05 595.42) rotate(-89.94)" font-size="9.0" text-anchor="middle">Days</text>
<rect x="602.05" y="609.55" width="55.7" height="13" rx="1.5" ry="1.5" fill="#fff" stroke="#ccc" stroke-width="0.76"/>
<path d="M605.25 615.55H620.45" stroke="#000" stroke-width="1.16" stroke-dasharray="4.3 1.9" fill="none"/>
<g fill="#000"><path d="M612.85 612.7L615.95 618.05L609.75 618.05Z"/></g>
<text transform="translate(626.35 618.05) rotate(0.06)" font-size="7.7">Decade</text>
</g>
</svg>
</body>
</html>
